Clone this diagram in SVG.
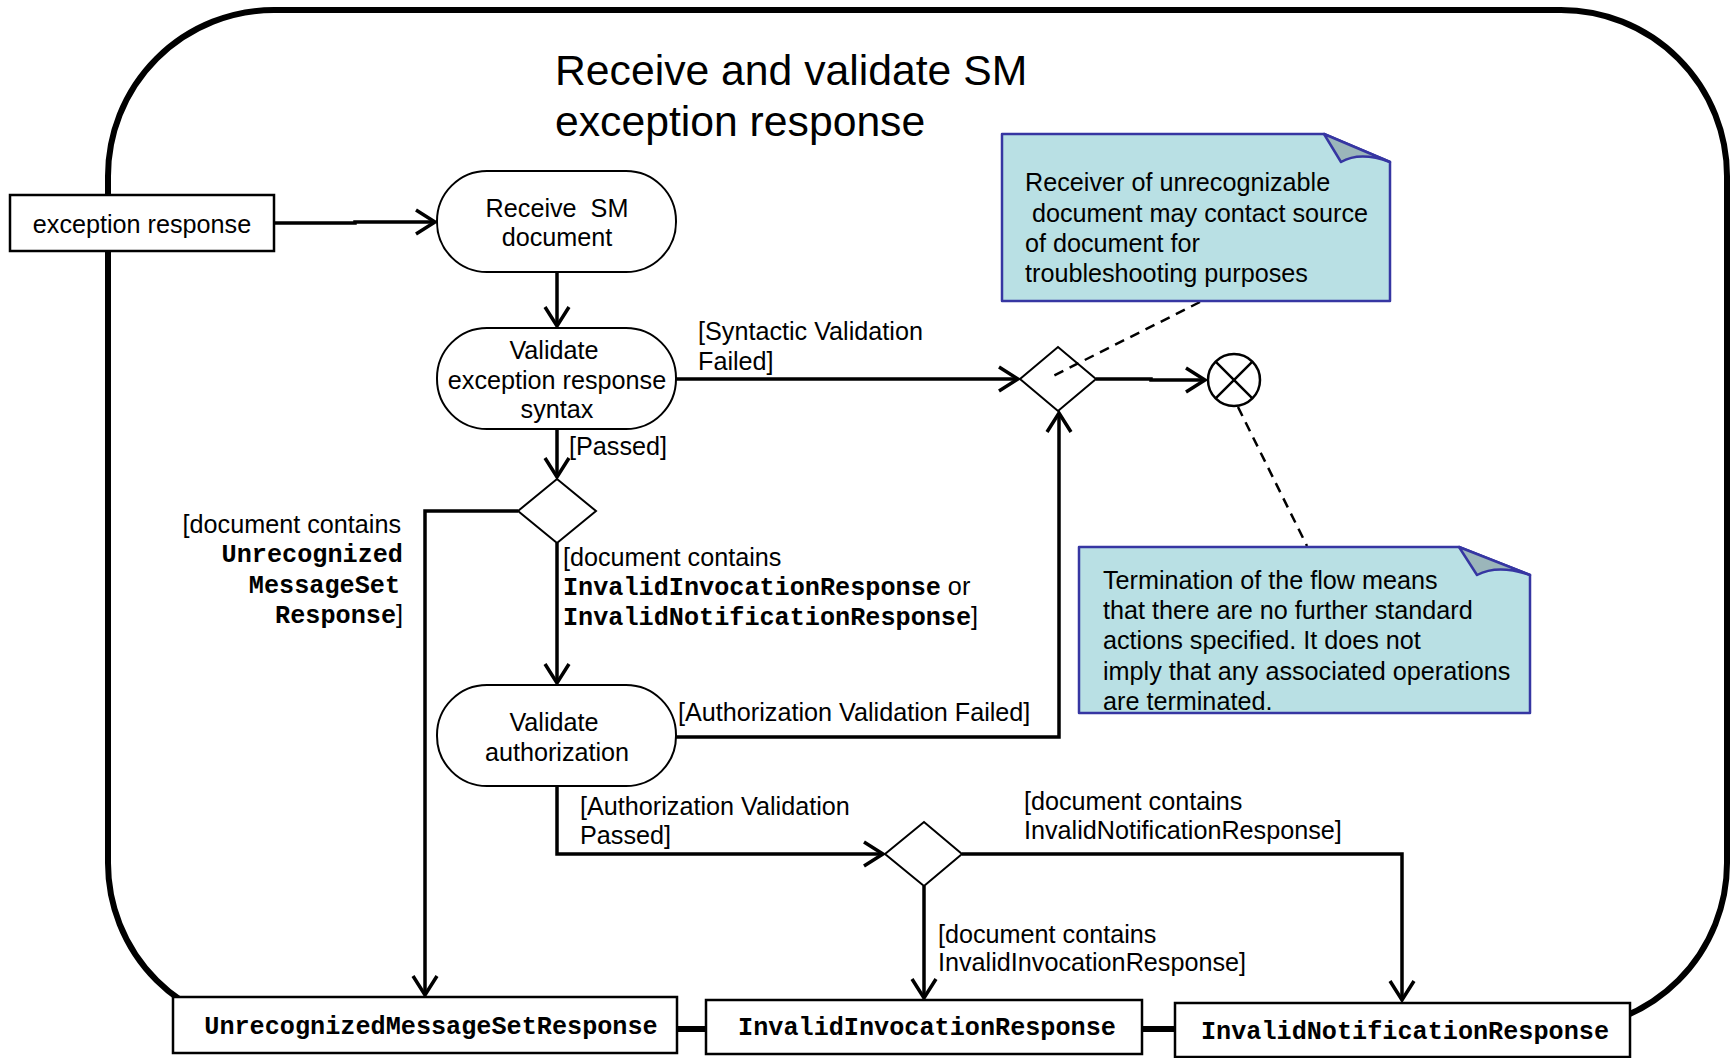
<svg xmlns="http://www.w3.org/2000/svg" width="1730" height="1058" viewBox="0 0 1730 1058">
<style>
text{font-family:"Liberation Sans",Arial,sans-serif;font-size:25.2px;fill:#000}
.mono{font-family:"Liberation Mono","Courier New",monospace;font-weight:bold}
.title{font-size:42.7px}
.c{text-anchor:middle}
.e{text-anchor:end}
.node{fill:#fff;stroke:#000;stroke-width:2}
.box{fill:#fff;stroke:#000;stroke-width:2.5}
.flow{fill:none;stroke:#000;stroke-width:3.5;marker-end:url(#arr)}
.dash{fill:none;stroke:#000;stroke-width:2.5;stroke-dasharray:10 7}
.note{fill:#b9e0e4;stroke:#3636a2;stroke-width:2.5;stroke-linejoin:round}
.fold{fill:#9bb6ba;stroke:#3636a2;stroke-width:2.5;stroke-linejoin:round}
</style>
<defs>
<marker id="arr" markerUnits="userSpaceOnUse" markerWidth="26" markerHeight="30" refX="21" refY="13" orient="auto" overflow="visible">
<path d="M2,1 L21,13 L2,25" fill="none" stroke="#000" stroke-width="3.5" stroke-linejoin="miter"/>
</marker>
</defs>

<g id="frame">
<rect x="108" y="10" width="1619" height="1019" rx="166" ry="166" fill="none" stroke="#000" stroke-width="6"/>
<text class="title" x="555" y="85">Receive and validate SM</text>
<text class="title" x="555" y="136">exception response</text>
</g>

<g id="connectors">
<path class="flow" d="M274,223 H355 V222 H435"/>
<path class="flow" d="M557,272 V326"/>
<path class="flow" d="M676,379 H1018"/>
<path class="flow" d="M1096,379 H1151 V380 H1205"/>
<path class="flow" d="M557,429 V477"/>
<path class="flow" d="M518,511 H425 V995"/>
<path class="flow" d="M557,543 V683"/>
<path class="flow" d="M676,737 H1059 V413"/>
<path class="flow" d="M557,786 V854 H883"/>
<path class="flow" d="M962,854 H1402 V1000"/>
<path class="flow" d="M924,886 V998"/>
<text x="569" y="455">[Passed]</text>
<text x="698" y="340">[Syntactic Validation</text>
<text x="698" y="370">Failed]</text>
<text class="e" x="401" y="533">[document contains</text>
<text class="e mono" x="403" y="562">Unrecognized</text>
<text class="e mono" x="400" y="593">MessageSet</text>
<text class="e" x="403" y="623"><tspan class="mono">Response</tspan>]</text>
<text x="563" y="566">[document contains</text>
<text x="563" y="595"><tspan class="mono">InvalidInvocationResponse</tspan> or</text>
<text x="563" y="625"><tspan class="mono">InvalidNotificationResponse</tspan>]</text>
<text x="678" y="721">[Authorization Validation Failed]</text>
<text x="580" y="815">[Authorization Validation</text>
<text x="580" y="844">Passed]</text>
<text x="1024" y="810">[document contains</text>
<text x="1024" y="839">InvalidNotificationResponse]</text>
<text x="938" y="943">[document contains</text>
<text x="938" y="971">InvalidInvocationResponse]</text>
</g>

<g id="input">
<rect class="box" x="10" y="195" width="264" height="56"/>
<text class="c" x="142" y="233">exception response</text>
</g>

<g id="receive">
<rect class="node" x="437" y="171" width="239" height="101" rx="50" ry="50"/>
<text class="c" x="557" y="217" xml:space="preserve">Receive  SM</text>
<text class="c" x="557" y="246">document</text>
</g>

<g id="validateSyntax">
<rect class="node" x="437" y="328" width="239" height="101" rx="50" ry="50"/>
<text class="c" x="554" y="359">Validate</text>
<text class="c" x="557" y="389">exception response</text>
<text class="c" x="557" y="418">syntax</text>
</g>

<g id="decision1">
<polygon class="node" points="518,511 557,479 596,511 557,543"/>
</g>

<g id="validateAuth">
<rect class="node" x="437" y="685" width="239" height="101" rx="50" ry="50"/>
<text class="c" x="554" y="731">Validate</text>
<text class="c" x="557" y="761">authorization</text>
</g>

<g id="merge">
<polygon class="node" points="1020,379 1058,347 1096,379 1058,411"/>
</g>

<g id="flowFinal">
<circle cx="1234" cy="380" r="26" fill="#fff" stroke="#000" stroke-width="2.5"/>
<path d="M1215.6,361.6 L1252.4,398.4 M1252.4,361.6 L1215.6,398.4" stroke="#000" stroke-width="2.5"/>
</g>

<g id="decision3">
<polygon class="node" points="885,854 924,822 962,854 924,886"/>
</g>

<g id="annotationLinks">
<path class="dash" d="M1200,302 L1049,378"/>
<path class="dash" d="M1238,407 L1307,546"/>
</g>

<g id="note1">
<path class="note" d="M1002,134 H1324 L1390,162 V301 H1002 Z"/>
<path class="fold" d="M1324,134 L1341,162 Q1360,151 1390,162 Z"/>
<text x="1025" y="191">Receiver of unrecognizable</text>
<text x="1025" y="222" xml:space="preserve"> document may contact source</text>
<text x="1025" y="252">of document for</text>
<text x="1025" y="282">troubleshooting purposes</text>
</g>

<g id="note2">
<path class="note" d="M1079,547 H1459 L1530,575 V713 H1079 Z"/>
<path class="fold" d="M1459,547 L1477,575 Q1498,564 1530,575 Z"/>
<text x="1103" y="589">Termination of the flow means</text>
<text x="1103" y="619">that there are no further standard</text>
<text x="1103" y="649">actions specified. It does not</text>
<text x="1103" y="680">imply that any associated operations</text>
<text x="1103" y="710">are terminated.</text>
</g>

<g id="unrecognized">
<rect class="box" x="173" y="997" width="504" height="56"/>
<text class="c mono" x="431" y="1034">UnrecognizedMessageSetResponse</text>
</g>

<g id="invalidInvocation">
<rect class="box" x="706" y="1000" width="436" height="54"/>
<text class="c mono" x="927" y="1035">InvalidInvocationResponse</text>
</g>

<g id="invalidNotification">
<rect class="box" x="1175" y="1003" width="455" height="54"/>
<text class="c mono" x="1405" y="1039">InvalidNotificationResponse</text>
</g>
</svg>
